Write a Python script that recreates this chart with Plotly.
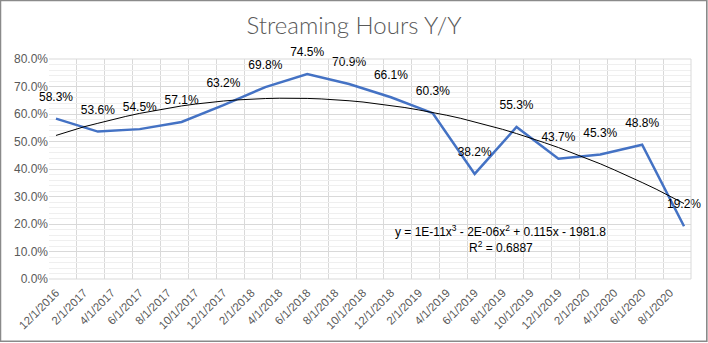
import numpy as np
import plotly.graph_objects as go
from datetime import date

# ---- data ----
point_dates = ["2016-12-01", "2017-03-01", "2017-06-01", "2017-09-01",
               "2017-12-01", "2018-03-01", "2018-06-01", "2018-09-01",
               "2018-12-01", "2019-03-01", "2019-06-01", "2019-09-01",
               "2019-12-01", "2020-03-01", "2020-06-01", "2020-09-01"]
values_pct = [58.3, 53.6, 54.5, 57.1, 63.2, 69.8, 74.5, 70.9,
              66.1, 60.3, 38.2, 55.3, 43.7, 45.3, 48.8, 19.2]
tick_labels = ["12/1/2016", "2/1/2017", "4/1/2017", "6/1/2017", "8/1/2017",
               "10/1/2017", "12/1/2017", "2/1/2018", "4/1/2018", "6/1/2018",
               "8/1/2018", "10/1/2018", "12/1/2018", "2/1/2019", "4/1/2019",
               "6/1/2019", "8/1/2019", "10/1/2019", "12/1/2019", "2/1/2020",
               "4/1/2020", "6/1/2020", "8/1/2020"]
title_text = "Streaming Hours Y/Y"
eq_text = "y = 1E-11x<sup>3</sup> - 2E-06x<sup>2</sup> + 0.115x - 1981.8"
r2_text = "R<sup>2</sup> = 0.6887"

# ---- helpers: month-slot axis like Excel date axis (base unit months) ----
def month_index(d):
    return (d.year - 2016) * 12 + d.month - 12

def excel_serial(d):
    return (d - date(1899, 12, 30)).days

pdates = [date.fromisoformat(s) for s in point_dates]
px_ = [month_index(d) for d in pdates]
py_ = [v / 100 for v in values_pct]

tick_dates = [date(int(t.split("/")[2]), int(t.split("/")[0]), 1) for t in tick_labels]
tick_pos = [month_index(d) for d in tick_dates]

# cubic polynomial trendline (fit on date serials, as Excel does)
xs = np.array([excel_serial(d) for d in pdates], dtype=float)
x0 = xs.mean()
coef = np.polyfit(xs - x0, np.array(py_), 3)
trend_dates = []
for m in range(px_[0], px_[-1] + 1):
    y = 2016 + (11 + m) // 12
    mo = (11 + m) % 12 + 1
    trend_dates.append(date(y, mo, 1))
tx = [month_index(d) for d in trend_dates]
ty = np.polyval(coef, np.array([excel_serial(d) for d in trend_dates], dtype=float) - x0)

W, H = 708, 343
L, R, T, B = 49.3, 17.3, 59.3, 63.7
pw, ph = W - L - R, H - T - B

fig = go.Figure()
fig.add_trace(go.Scatter(
    x=px_, y=py_, mode="lines+markers+text",
    line=dict(color="#4472C4", width=2.5),
    marker=dict(size=22, color="rgba(0,0,0,0)"),
    text=[f"{v:.1f}%" for v in values_pct], textposition="top center",
    textfont=dict(family="Liberation Sans, Arial", size=12, color="#000000"),
    hoverinfo="skip", showlegend=False, cliponaxis=False))
fig.add_trace(go.Scatter(
    x=tx, y=ty, mode="lines", line=dict(color="#000000", width=1),
    hoverinfo="skip", showlegend=False))

fig.update_layout(
    width=W, height=H,
    margin=dict(l=L, r=R, t=T, b=B, autoexpand=False),
    paper_bgcolor="white", plot_bgcolor="white",
    title=dict(text=title_text, x=0.5, xanchor="center", y=1 - 26 / H, yanchor="middle",
               font=dict(family="Lato", size=24, weight=300, color="#595959")),
    xaxis=dict(range=[-0.5, 45.5], tickmode="array", tickvals=tick_pos, ticktext=tick_labels,
               tickangle=-45, showgrid=False, zeroline=False, showline=False, ticks="",
               ticklabelstandoff=4,
               tickfont=dict(family="Liberation Sans, Arial", size=11.5, color="#595959"),
               minor=dict(tickmode="linear", tick0=-0.5, dtick=2, showgrid=True,
                          gridcolor="#d9d9d9", gridwidth=1, ticks="")),
    yaxis=dict(range=[0, 0.8], dtick=0.1, tickformat=".1%", showgrid=True,
               gridcolor="#d9d9d9", gridwidth=1, zeroline=False, showline=False, ticks="",
               tickfont=dict(family="Liberation Sans, Arial", size=12, color="#595959"),
               minor=dict(dtick=0.02, showgrid=True, gridcolor="#efefef", gridwidth=1)),
    font=dict(family="Liberation Sans, Arial"),
)
# x-axis baseline and plot edges like Excel
fig.add_shape(type="line", xref="paper", yref="paper", x0=0, x1=1, y0=0, y1=0,
              line=dict(color="#d9d9d9", width=1))
fig.add_shape(type="line", xref="paper", yref="paper", x0=1, x1=1, y0=0, y1=1,
              line=dict(color="#d9d9d9", width=1))
fig.add_shape(type="line", xref="paper", yref="paper", x0=0, x1=1, y0=1, y1=1,
              line=dict(color="#d9d9d9", width=1))
# chart border
fig.add_shape(type="rect", xref="paper", yref="paper",
              x0=(0.8 - L) / pw, x1=(706.5 - L) / pw,
              y0=1 - (341.5 - T) / ph, y1=1 - (0.8 - T) / ph,
              line=dict(color="#8a8a8a", width=1.6), layer="above")
fig.add_annotation(text=eq_text, xref="paper", yref="paper", xanchor="center", yanchor="middle",
                   x=(500.7 - L) / pw, y=1 - (231 - T) / ph, showarrow=False,
                   font=dict(family="Liberation Sans, Arial", size=12, color="#000000"))
fig.add_annotation(text=r2_text, xref="paper", yref="paper", xanchor="center", yanchor="middle",
                   x=(500.7 - L) / pw, y=1 - (247 - T) / ph, showarrow=False,
                   font=dict(family="Liberation Sans, Arial", size=12, color="#000000"))

fig.write_html("out.html")
